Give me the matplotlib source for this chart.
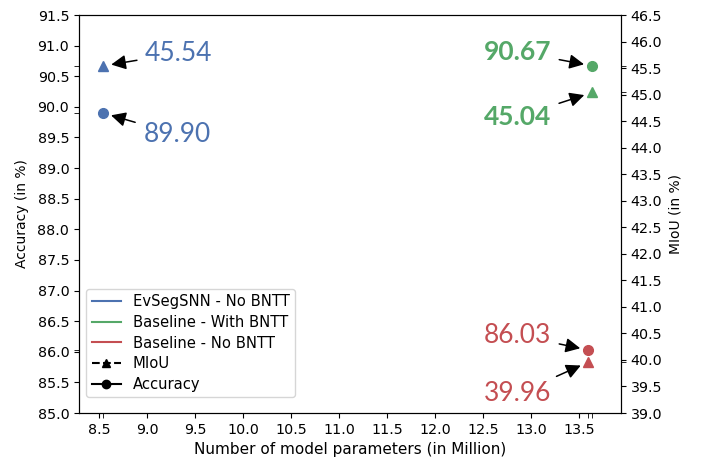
import numpy as np
import matplotlib
matplotlib.use('Agg')
import matplotlib.pyplot as plt
from matplotlib.lines import Line2D

# model data
models = ['EvSegSNN - No BNTT', 'Baseline - With BNTT', 'Baseline - No BNTT']
colors = ['#4C72B0', '#55A868', '#C44E52']
params = [8.54, 13.64, 13.60]
accuracy = [89.90, 90.67, 86.03]
miou = [45.54, 45.04, 39.96]

# where the value labels go (data coords)
acc_text_pos = [(8.96, 89.55), (13.21, 90.90), (13.21, 86.27)]
miou_text_pos = [(8.98, 45.78), (13.21, 44.58), (13.21, 39.36)]
acc_ha = ['left', 'right', 'right']
miou_ha = ['left', 'right', 'right']
weights = ['normal', 'bold', 'normal']

fig = plt.figure(figsize=(7.01, 4.62), dpi=100)
ax = fig.add_axes([0.1127, 0.106, 0.7732, 0.8615])
ax2 = ax.twinx()

arrow = dict(arrowstyle='-|>', color='black', mutation_scale=22,
             shrinkA=4, shrinkB=6, lw=1.1)
for i in range(3):
    ax.plot(params[i], accuracy[i], 'o', color=colors[i], ms=7)
    ax2.plot(params[i], miou[i], '^', color=colors[i], ms=7)
    ax.annotate(f'{accuracy[i]:.2f}', xy=(params[i], accuracy[i]), xytext=acc_text_pos[i],
                ha=acc_ha[i], va='center', fontsize=19, family='Lato',
                color=colors[i], fontweight=weights[i], arrowprops=arrow)
    ax2.annotate(f'{miou[i]:.2f}', xy=(params[i], miou[i]), xytext=miou_text_pos[i],
                 ha=miou_ha[i], va='center', fontsize=19, family='Lato',
                 color=colors[i], fontweight=weights[i], arrowprops=arrow)

ax.set_xlim(8.29, 13.94)
ax.set_ylim(85.0, 91.5)
ax2.set_ylim(39.0, 46.5)
ax.set_xticks(np.arange(8.5, 13.51, 0.5))
ax.set_yticks(np.arange(85.0, 91.51, 0.5))
ax2.set_yticks(np.arange(39.0, 46.51, 0.5))
ax.set_xticks(params, minor=True)
ax.set_yticks(accuracy, minor=True)
ax2.set_yticks(miou, minor=True)
ax.tick_params(which='minor', length=3.5)
ax2.tick_params(which='minor', length=3.5)
ax.tick_params(labelsize=10.3)
ax2.tick_params(labelsize=10.3)

ax.set_xlabel('Number of model parameters (in Million)', fontsize=11)
ax.set_ylabel('Accuracy (in %)', fontsize=10, labelpad=6)
ax2.set_ylabel('MIoU (in %)', fontsize=10)

handles = [Line2D([0], [0], color=c) for c in colors]
handles.append(Line2D([0], [0], color='black', ls='--', marker='^'))
handles.append(Line2D([0], [0], color='black', ls='-', marker='o'))
labels = models + ['MIoU', 'Accuracy']
ax.legend(handles, labels, loc='lower left', fontsize=10.6, labelspacing=0.38,
          borderpad=0.35, bbox_to_anchor=(0.0, 0.022))

fig.savefig('out.png', dpi=100)
